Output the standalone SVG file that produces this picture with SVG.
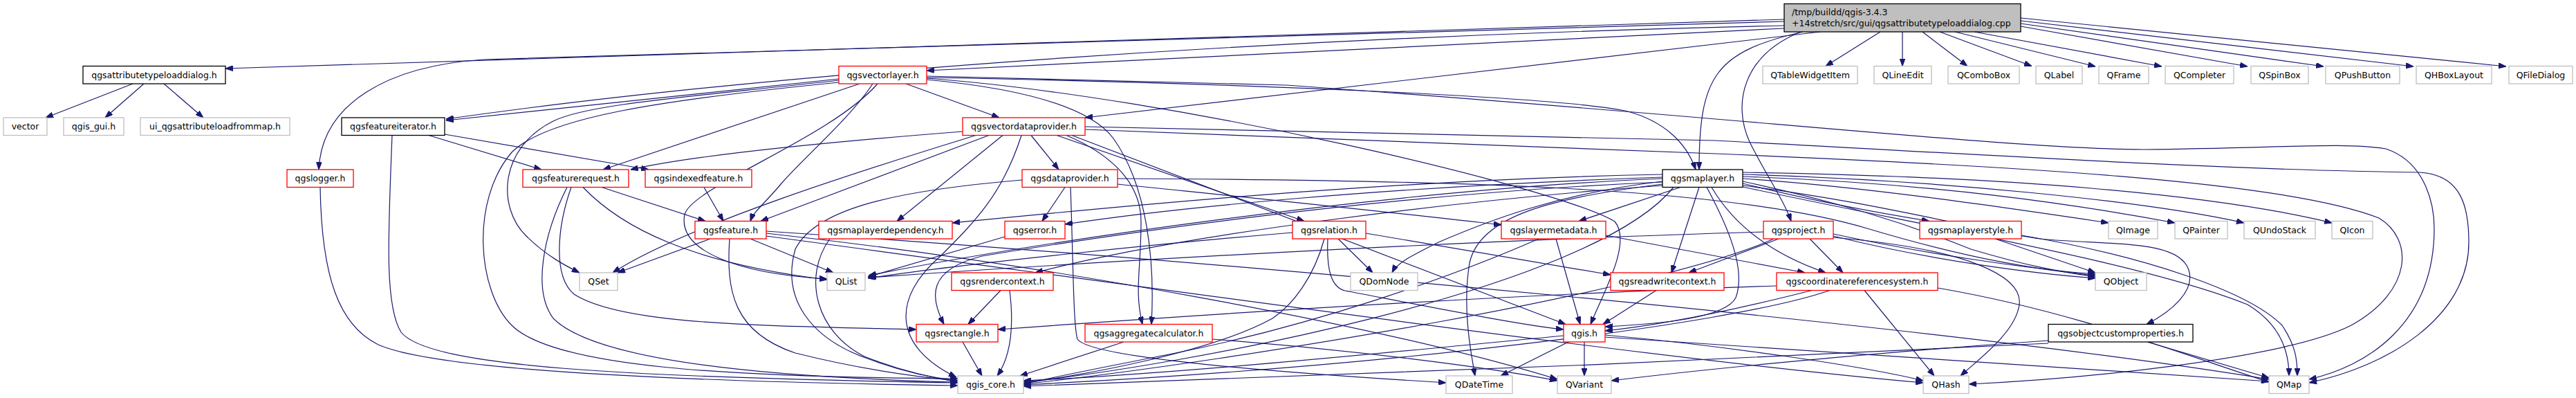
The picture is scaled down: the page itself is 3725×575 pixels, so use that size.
<svg xmlns="http://www.w3.org/2000/svg" width="3725" height="575" viewBox="0 0 3725 575">
<style>
text{font-family:"DejaVu Sans",sans-serif;font-size:12.5px;fill:#000;text-anchor:middle}
.n rect{fill:#fff;stroke-width:1.3}
.r rect{stroke:#ff0000}
.g rect{stroke:#bfbfbf}
.b rect{stroke:#000}
#edges path{fill:none;stroke:#191970;stroke-width:1.2;marker-end:url(#a)}
</style>
<defs>
<marker id="a" markerUnits="userSpaceOnUse" markerWidth="11" markerHeight="8" refX="11" refY="4" orient="auto">
<path d="M0,0 L11,4 L0,8 z" fill="#191970" stroke="#191970" stroke-width="1"/>
</marker>
</defs>
<rect width="3725" height="575" fill="#fff"/>
<g id="edges">
<path d="M2580,28 L326,99"/>
<path d="M2580,31 L700,86 C560,95 465,150 461,245"/>
<path d="M2580,37 C1900,52 1150,100 645,172"/>
<path d="M2580,41 L1340,102"/>
<path d="M2632,46 L1569,170"/>
<path d="M2607,46 C2480,75 2457,110 2457,245"/>
<path d="M2604,46 C2520,80 2505,150 2530,205 C2555,255 2580,290 2590,319.5"/>
<path d="M2719,46 L2640,95.5"/>
<path d="M2751,46 L2751,95.5"/>
<path d="M2780,46 L2845,95.5"/>
<path d="M2805,46 L2938,95.5"/>
<path d="M2827,46 L3030,96"/>
<path d="M2855,46 L3126,96"/>
<path d="M2922,38 L3250,96"/>
<path d="M2922,34 L3360,96"/>
<path d="M2922,30 L3490,96"/>
<path d="M2922,26 L3624,96"/>
<path d="M192,121 L66,170"/>
<path d="M208,121 L152,170"/>
<path d="M237,121 L294,170"/>
<path d="M620,195.5 L783,245"/>
<path d="M643,194 L938,245"/>
<path d="M567,195.5 C562,330 555,440 580,480 C620,530 900,545 1385,553"/>
<path d="M463,270.5 C465,400 490,470 547,498 C620,530 900,550 1385,557"/>
<path d="M1213,114 L645,174"/>
<path d="M1243,121 L872,245"/>
<path d="M1262,121 C1230,170 1160,230 1130,265 C1105,295 1090,305 1085,319.5"/>
<path d="M1310,121 L1445,170"/>
<path d="M1340,112 C1800,120 2250,140 2350,160 C2410,175 2440,210 2452,245"/>
<path d="M1213,116 C1000,140 850,150 800,175 C720,215 720,300 760,340 C790,370 820,385 838,394"/>
<path d="M1213,119 C950,145 790,170 740,220 C680,290 690,420 740,470 C800,530 1050,545 1385,547"/>
<path d="M1269,121 C1200,200 1000,270 990,310 C980,360 1060,395 1196,403"/>
<path d="M1340,115 C1500,130 1580,160 1610,200 C1660,270 1670,380 1665,468.5"/>
<path d="M1340,113 C1700,140 2250,270 2335,320 C2360,350 2320,420 2300,468.5"/>
<path d="M1340,110 L1860,123 C2500,168 2900,215 3100,216 C3300,214 3390,205 3450,215 C3510,235 3520,300 3520,330 C3520,470 3420,530 3339,548"/>
<path d="M1569,183 L2480,203 C2900,225 3200,245 3498,249 C3560,252 3570,300 3570,350 C3570,460 3450,530 3339,553"/>
<path d="M1569,187 L2480,222 C2900,240 3300,260 3440,315 C3490,345 3490,420 3400,470 C3300,520 3000,548 2847,555"/>
<path d="M1392,190 C1200,205 1000,225 912,245"/>
<path d="M1411,195.5 C1300,230 1000,320 886,394"/>
<path d="M1430,195.5 L1100,319.5"/>
<path d="M1450,195.5 L1297,319.5"/>
<path d="M1477,195.5 C1450,280 1410,320 1360,370 C1290,430 1290,500 1383,545"/>
<path d="M1491,195.5 L1531,245"/>
<path d="M1542,195.5 C1600,220 1650,260 1650,320 C1650,390 1640,420 1652,468.5"/>
<path d="M1528,195.5 L1886,319.5"/>
<path d="M1550,195.5 L2264,468.5"/>
<path d="M1540,270.5 L1507,319.5"/>
<path d="M1548,270.5 C1552,380 1552,470 1558,490 C1575,515 1800,535 2091,553"/>
<path d="M1616,266 C1800,285 2000,305 2171,325"/>
<path d="M1616,258 C2100,260 2500,270 2700,330 C2850,375 2950,390 3030,398"/>
<path d="M1478,260 C1300,275 1180,300 1150,360 C1130,430 1170,490 1260,520 C1300,535 1340,545 1385,550"/>
<path d="M1200,345 C1160,400 1180,480 1250,515 C1300,535 1345,545 1385,552"/>
<path d="M1453,342 L1255,400"/>
<path d="M1447,419.5 L1400,468.5"/>
<path d="M1460,419.5 C1465,460 1465,510 1442,543"/>
<path d="M1392,494 L1420,543"/>
<path d="M1625,494 L1475,543"/>
<path d="M1753,490 C1950,505 2150,530 2252,550"/>
<path d="M1935,345 L1985,394"/>
<path d="M1920,345 C1918,390 1925,415 1945,420 C2050,440 2200,470 2261,476"/>
<path d="M1915,345 C1900,400 1870,440 1840,460 C1750,510 1550,545 1480,553"/>
<path d="M1975,337 L2329,397"/>
<path d="M1869,336 C1700,350 1400,380 1255,402"/>
<path d="M2250,345 L2285,468.5"/>
<path d="M2225,345 C2100,400 1900,470 1700,510 C1600,530 1520,545 1480,555"/>
<path d="M2322,340 L2610,394"/>
<path d="M2430,270.5 L2283,319.5"/>
<path d="M2457,270.5 L2417,394"/>
<path d="M2468,270.5 C2500,330 2525,390 2510,430 C2495,460 2400,468 2321,472"/>
<path d="M2475,270.5 C2510,330 2570,370 2640,394"/>
<path d="M2404,266 C2250,285 2140,310 2125,380 C2115,440 2125,500 2133,543"/>
<path d="M2404,262 C2250,280 2150,320 2080,350 C2040,370 2020,380 2013,394"/>
<path d="M2404,252 C2000,260 1600,300 1377,322"/>
<path d="M2404,256 C2000,270 1700,300 1540,324"/>
<path d="M2404,268 C2100,290 1700,340 1497,394"/>
<path d="M2404,263 C2000,280 1600,340 1420,370 C1340,390 1345,430 1365,468.5"/>
<path d="M2404,258 C2000,275 1500,350 1256,398"/>
<path d="M2420,270.5 C2300,420 1700,530 1480,552"/>
<path d="M2520,265 C2600,285 2700,305 2790,319.5"/>
<path d="M2520,258 C2700,270 2900,300 3049,322"/>
<path d="M2520,255 C2800,265 3000,295 3145,322"/>
<path d="M2520,252 C2800,260 3100,290 3245,322"/>
<path d="M2520,249 C2900,255 3200,280 3372,322"/>
<path d="M2520,262 C2650,290 2750,320 2850,360 C2950,390 3000,395 3030,400"/>
<path d="M2520,268 C2700,290 2850,330 2950,345 C3050,355 3150,345 3165,390 C3175,420 3140,450 3104,468.5"/>
<path d="M2520,270 C2800,330 3100,380 3250,440 C3300,470 3310,510 3310,543"/>
<path d="M2572,345 L2442,394"/>
<path d="M2617,345 L2665,394"/>
<path d="M2651,343 C2850,360 2925,400 2920,440 C2915,480 2860,520 2835,543"/>
<path d="M2651,338 C2800,370 2950,390 3030,396"/>
<path d="M2651,341 C2800,378 2950,396 3030,402"/>
<path d="M2550,335 C2200,345 1700,370 1256,401"/>
<path d="M2565,345 C2400,420 1800,520 1480,555"/>
<path d="M2569,413 C2200,425 1800,450 1443,476"/>
<path d="M2620,419.5 C2500,450 2400,470 2321,478"/>
<path d="M2646,419.5 C2500,470 2000,530 1480,556"/>
<path d="M2696,419.5 L2797,543"/>
<path d="M2802,416 C3000,450 3150,510 3281,552"/>
<path d="M2885,345 L3030,394"/>
<path d="M2923,340 C3100,370 3250,420 3300,470 C3320,500 3322,520 3322,543"/>
<path d="M3105,494 L3281,546"/>
<path d="M2962,492 C2700,510 2450,535 2330,550"/>
<path d="M2962,496 C2500,520 1900,545 1480,558"/>
<path d="M2291,494 L2291,543"/>
<path d="M2268,494 L2170,543"/>
<path d="M2261,485 C2000,510 1700,540 1480,550"/>
<path d="M2321,487 C2700,510 3000,530 3281,551"/>
<path d="M2321,484 C2500,500 2700,530 2781,550"/>
<path d="M2395,419.5 L2318,468.5"/>
<path d="M1027,345 L893,394"/>
<path d="M1085,345 L1205,394"/>
<path d="M1055,345 C1050,420 1060,480 1150,510 C1250,535 1330,545 1385,550"/>
<path d="M1108,337 C1500,380 2000,470 2252,548"/>
<path d="M1108,334 C1800,380 2800,470 3281,548"/>
<path d="M1108,341 C1700,420 2400,520 2781,553"/>
<path d="M870,270.5 L1020,319.5"/>
<path d="M843,270.5 C900,330 1000,380 1196,404"/>
<path d="M826,270.5 C805,330 800,400 830,425 C900,470 1100,470 1325,476"/>
<path d="M820,270.5 C785,340 770,420 800,460 C860,520 1100,545 1385,552"/>
<path d="M1018,270.5 L1046,319.5"/>
</g>
<g id="main"><rect x="2580" y="5.5" width="342" height="40.5" fill="#bfbfbf" stroke="#000" stroke-width="1.3"/><text x="2591" y="22" style="text-anchor:start">/tmp/buildd/qgis-3.4.3</text><text x="2591" y="38" style="text-anchor:start">+14stretch/src/gui/qgsattributetypeloaddialog.cpp</text></g>
<g id="n_atld" class="n b"><rect x="120" y="95.5" width="206" height="25.5"/><text x="223" y="112.7">qgsattributetypeloaddialog.h</text></g>
<g id="n_vl" class="n r"><rect x="1213" y="95.5" width="127" height="25.5"/><text x="1276.5" y="112.7">qgsvectorlayer.h</text></g>
<g id="n_qtwi" class="n g"><rect x="2549" y="95.5" width="137" height="25.5"/><text x="2617.5" y="112.7">QTableWidgetItem</text></g>
<g id="n_qle" class="n g"><rect x="2710" y="95.5" width="83" height="25.5"/><text x="2751.5" y="112.7">QLineEdit</text></g>
<g id="n_qcb" class="n g"><rect x="2817" y="95.5" width="103" height="25.5"/><text x="2868.5" y="112.7">QComboBox</text></g>
<g id="n_qlabel" class="n g"><rect x="2944" y="95.5" width="67" height="25.5"/><text x="2977.5" y="112.7">QLabel</text></g>
<g id="n_qframe" class="n g"><rect x="3035" y="95.5" width="72" height="25.5"/><text x="3071" y="112.7">QFrame</text></g>
<g id="n_qcompleter" class="n g"><rect x="3131" y="95.5" width="99" height="25.5"/><text x="3180.5" y="112.7">QCompleter</text></g>
<g id="n_qspinbox" class="n g"><rect x="3255" y="95.5" width="83" height="25.5"/><text x="3296.5" y="112.7">QSpinBox</text></g>
<g id="n_qpushbutton" class="n g"><rect x="3363" y="95.5" width="107" height="25.5"/><text x="3416.5" y="112.7">QPushButton</text></g>
<g id="n_qhbox" class="n g"><rect x="3494" y="95.5" width="109" height="25.5"/><text x="3548.5" y="112.7">QHBoxLayout</text></g>
<g id="n_qfiledialog" class="n g"><rect x="3628" y="95.5" width="92" height="25.5"/><text x="3674" y="112.7">QFileDialog</text></g>
<g id="n_vector" class="n g"><rect x="5" y="170" width="63" height="25.5"/><text x="36.5" y="187.2">vector</text></g>
<g id="n_qgisgui" class="n g"><rect x="92" y="170" width="87" height="25.5"/><text x="135.5" y="187.2">qgis_gui.h</text></g>
<g id="n_ui" class="n g"><rect x="203" y="170" width="216" height="25.5"/><text x="311" y="187.2">ui_qgsattributeloadfrommap.h</text></g>
<g id="n_fi" class="n b"><rect x="494" y="170" width="149" height="25.5"/><text x="568.5" y="187.2">qgsfeatureiterator.h</text></g>
<g id="n_vdp" class="n r"><rect x="1392" y="170" width="177" height="25.5"/><text x="1480.5" y="187.2">qgsvectordataprovider.h</text></g>
<g id="n_logger" class="n r"><rect x="415" y="245" width="96" height="25.5"/><text x="463" y="262.2">qgslogger.h</text></g>
<g id="n_fr" class="n r"><rect x="756" y="245" width="153" height="25.5"/><text x="832.5" y="262.2">qgsfeaturerequest.h</text></g>
<g id="n_if" class="n r"><rect x="933" y="245" width="154" height="25.5"/><text x="1010" y="262.2">qgsindexedfeature.h</text></g>
<g id="n_dp" class="n r"><rect x="1478" y="245" width="138" height="25.5"/><text x="1547" y="262.2">qgsdataprovider.h</text></g>
<g id="n_ml" class="n b"><rect x="2404" y="245" width="116" height="25.5"/><text x="2462" y="262.2">qgsmaplayer.h</text></g>
<g id="n_f" class="n r"><rect x="1005" y="319.5" width="103" height="25.5"/><text x="1056.5" y="336.7">qgsfeature.h</text></g>
<g id="n_mld" class="n r"><rect x="1184" y="319.5" width="193" height="25.5"/><text x="1280.5" y="336.7">qgsmaplayerdependency.h</text></g>
<g id="n_err" class="n r"><rect x="1453" y="319.5" width="87" height="25.5"/><text x="1496.5" y="336.7">qgserror.h</text></g>
<g id="n_rel" class="n r"><rect x="1869" y="319.5" width="106" height="25.5"/><text x="1922" y="336.7">qgsrelation.h</text></g>
<g id="n_lmd" class="n r"><rect x="2171" y="319.5" width="151" height="25.5"/><text x="2246.5" y="336.7">qgslayermetadata.h</text></g>
<g id="n_proj" class="n r"><rect x="2550" y="319.5" width="101" height="25.5"/><text x="2600.5" y="336.7">qgsproject.h</text></g>
<g id="n_mls" class="n r"><rect x="2776" y="319.5" width="147" height="25.5"/><text x="2849.5" y="336.7">qgsmaplayerstyle.h</text></g>
<g id="n_qimage" class="n g"><rect x="3049" y="319.5" width="71" height="25.5"/><text x="3084.5" y="336.7">QImage</text></g>
<g id="n_qpainter" class="n g"><rect x="3145" y="319.5" width="76" height="25.5"/><text x="3183" y="336.7">QPainter</text></g>
<g id="n_qundostack" class="n g"><rect x="3245" y="319.5" width="103" height="25.5"/><text x="3296.5" y="336.7">QUndoStack</text></g>
<g id="n_qicon" class="n g"><rect x="3372" y="319.5" width="59" height="25.5"/><text x="3401.5" y="336.7">QIcon</text></g>
<g id="n_qset" class="n g"><rect x="838" y="394" width="55" height="25.5"/><text x="865.5" y="411.2">QSet</text></g>
<g id="n_qlist" class="n g"><rect x="1196" y="394" width="55" height="25.5"/><text x="1223.5" y="411.2">QList</text></g>
<g id="n_rc" class="n r"><rect x="1376" y="394" width="147" height="25.5"/><text x="1449.5" y="411.2">qgsrendercontext.h</text></g>
<g id="n_qdomnode" class="n g"><rect x="1953" y="394" width="97" height="25.5"/><text x="2001.5" y="411.2">QDomNode</text></g>
<g id="n_rwc" class="n r"><rect x="2329" y="394" width="164" height="25.5"/><text x="2411" y="411.2">qgsreadwritecontext.h</text></g>
<g id="n_crs" class="n r"><rect x="2569" y="394" width="233" height="25.5"/><text x="2685.5" y="411.2">qgscoordinatereferencesystem.h</text></g>
<g id="n_qobject" class="n g"><rect x="3030" y="394" width="74" height="25.5"/><text x="3067" y="411.2">QObject</text></g>
<g id="n_rect" class="n r"><rect x="1325" y="468.5" width="118" height="25.5"/><text x="1384" y="485.7">qgsrectangle.h</text></g>
<g id="n_agg" class="n r"><rect x="1569" y="468.5" width="184" height="25.5"/><text x="1661" y="485.7">qgsaggregatecalculator.h</text></g>
<g id="n_qgis" class="n r"><rect x="2261" y="468.5" width="60" height="25.5"/><text x="2291" y="485.7">qgis.h</text></g>
<g id="n_ocp" class="n b"><rect x="2962" y="468.5" width="209" height="25.5"/><text x="3066.5" y="485.7">qgsobjectcustomproperties.h</text></g>
<g id="n_qgiscore" class="n g"><rect x="1385" y="543" width="95" height="25.5"/><text x="1432.5" y="560.2">qgis_core.h</text></g>
<g id="n_qdatetime" class="n g"><rect x="2091" y="543" width="96" height="25.5"/><text x="2139" y="560.2">QDateTime</text></g>
<g id="n_qvariant" class="n g"><rect x="2252" y="543" width="78" height="25.5"/><text x="2291" y="560.2">QVariant</text></g>
<g id="n_qhash" class="n g"><rect x="2781" y="543" width="66" height="25.5"/><text x="2814" y="560.2">QHash</text></g>
<g id="n_qmap" class="n g"><rect x="3281" y="543" width="58" height="25.5"/><text x="3310" y="560.2">QMap</text></g>
</svg>
